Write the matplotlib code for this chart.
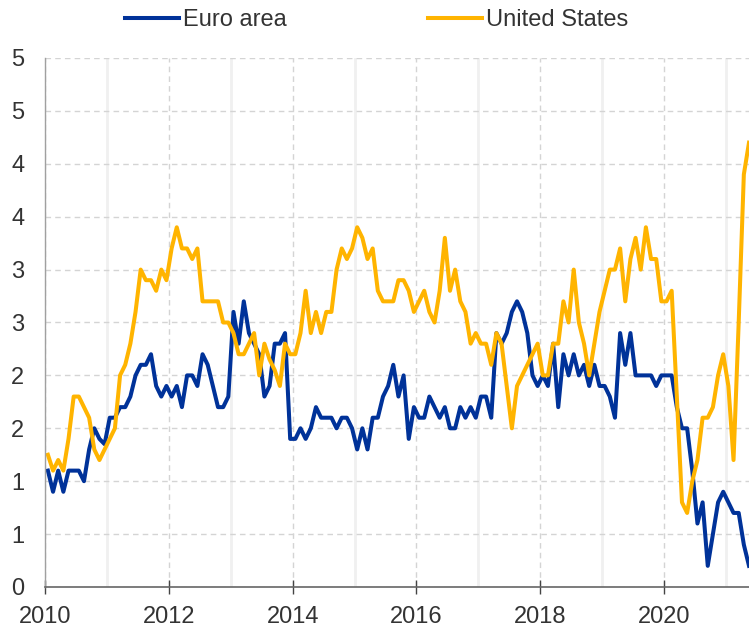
import numpy as np
import matplotlib
matplotlib.use("Agg")
import matplotlib.pyplot as plt
from matplotlib.ticker import MultipleLocator, FixedLocator

plt.rcParams['font.family'] = ['Liberation Sans', 'DejaVu Sans']

# monthly data, Jan 2010 - May 2021 (percentages)
START_YEAR = 2010
euro_area = [
    1.1, 0.9, 1.1, 0.9, 1.1, 1.1, 1.1, 1.0, 1.3, 1.5, 1.4, 1.35,   # 2010
    1.6, 1.6, 1.7, 1.7, 1.8, 2.0, 2.1, 2.1, 2.2, 1.9, 1.8, 1.9,    # 2011
    1.8, 1.9, 1.7, 2.0, 2.0, 1.9, 2.2, 2.1, 1.9, 1.7, 1.7, 1.8,    # 2012
    2.6, 2.3, 2.7, 2.4, 2.3, 2.2, 1.8, 1.9, 2.3, 2.3, 2.4, 1.4,    # 2013
    1.4, 1.5, 1.4, 1.5, 1.7, 1.6, 1.6, 1.6, 1.5, 1.6, 1.6, 1.5,    # 2014
    1.3, 1.5, 1.3, 1.6, 1.6, 1.8, 1.9, 2.1, 1.8, 2.0, 1.4, 1.7,    # 2015
    1.6, 1.6, 1.8, 1.7, 1.6, 1.7, 1.5, 1.5, 1.7, 1.6, 1.7, 1.6,    # 2016
    1.8, 1.8, 1.6, 2.4, 2.3, 2.4, 2.6, 2.7, 2.6, 2.4, 2.0, 1.9,    # 2017
    2.0, 1.9, 2.3, 1.7, 2.2, 2.0, 2.2, 2.0, 2.1, 1.9, 2.1, 1.9,    # 2018
    1.9, 1.8, 1.6, 2.4, 2.1, 2.4, 2.0, 2.0, 2.0, 2.0, 1.9, 2.0,    # 2019
    2.0, 2.0, 1.7, 1.5, 1.5, 1.1, 0.6, 0.8, 0.2, 0.5, 0.8, 0.9,    # 2020
    0.8, 0.7, 0.7, 0.4, 0.2,                                       # 2021
]
united_states = [
    1.25, 1.1, 1.2, 1.1, 1.4, 1.8, 1.8, 1.7, 1.6, 1.3, 1.2, 1.3,   # 2010
    1.4, 1.5, 2.0, 2.1, 2.3, 2.6, 3.0, 2.9, 2.9, 2.8, 3.0, 2.9,    # 2011
    3.2, 3.4, 3.2, 3.2, 3.1, 3.2, 2.7, 2.7, 2.7, 2.7, 2.5, 2.5,    # 2012
    2.4, 2.2, 2.2, 2.3, 2.4, 2.0, 2.3, 2.15, 2.05, 1.9, 2.3, 2.2,  # 2013
    2.2, 2.4, 2.8, 2.4, 2.6, 2.4, 2.6, 2.6, 3.0, 3.2, 3.1, 3.2,    # 2014
    3.4, 3.3, 3.1, 3.2, 2.8, 2.7, 2.7, 2.7, 2.9, 2.9, 2.8, 2.6,    # 2015
    2.7, 2.8, 2.6, 2.5, 2.8, 3.3, 2.8, 3.0, 2.7, 2.6, 2.3, 2.4,    # 2016
    2.3, 2.3, 2.1, 2.4, 2.3, 1.9, 1.5, 1.9, 2.0, 2.1, 2.2, 2.3,    # 2017
    2.0, 2.0, 2.3, 2.3, 2.7, 2.5, 3.0, 2.5, 2.3, 2.0, 2.3, 2.6,    # 2018
    2.8, 3.0, 3.0, 3.2, 2.7, 3.1, 3.3, 3.0, 3.4, 3.1, 3.1, 2.7,    # 2019
    2.7, 2.8, 1.8, 0.8, 0.7, 1.0, 1.2, 1.6, 1.6, 1.7, 2.0, 2.2,    # 2020
    1.9, 1.2, 2.5, 3.9, 4.2,                                       # 2021
]
y_ticks = [0, 0.5, 1, 1.5, 2, 2.5, 3, 3.5, 4, 4.5, 5]
y_tick_labels = ['0', '1', '1', '2', '2', '3', '3', '4', '4', '5', '5']
x_ticks = [2010, 2012, 2014, 2016, 2018, 2020]

BLUE = '#003299'
YELLOW = '#ffb400'
TXT = '#333333'

# mid-month positions
dates = START_YEAR + (np.arange(len(euro_area)) + 0.5) / 12.0

fig = plt.figure(figsize=(7.49, 6.27), dpi=100)
ax = fig.add_axes([0.0605, 0.0638, 0.9395, 0.8437])

l1, = ax.plot(dates, euro_area, color=BLUE, lw=2.9, solid_joinstyle='round', label='Euro area')
l2, = ax.plot(dates, united_states, color=YELLOW, lw=2.9, solid_joinstyle='round', label='United States')

ax.set_xlim(2010, dates[-1])
ax.set_ylim(0, 5)

ax.xaxis.set_major_locator(FixedLocator(x_ticks))
ax.xaxis.set_minor_locator(MultipleLocator(2, offset=1))
ax.set_xticklabels([str(t) for t in x_ticks])
ax.set_yticks(y_ticks)
ax.set_yticklabels(y_tick_labels)

ax.grid(True, which='major', axis='x', color='#d4d4d4', ls=(0, (4, 3)), lw=1.0)
ax.grid(True, which='minor', axis='x', color='#f0f0f0', ls='-', lw=2.0)
ax.grid(True, which='major', axis='y', color='#d4d4d4', ls=(0, (4, 3)), lw=1.0)
ax.set_axisbelow(True)

for s in ['top', 'right']:
    ax.spines[s].set_visible(False)
ax.spines['left'].set_color('#a0a0a0')
ax.spines['left'].set_linewidth(1.0)
ax.spines['bottom'].set_color('#666666')
ax.spines['bottom'].set_linewidth(1.2)

ax.tick_params(axis='x', which='major', direction='inout', length=10, width=1.0,
               color='#444444', labelsize=17, labelcolor=TXT, pad=9)
ax.tick_params(axis='x', which='minor', length=0)
ax.tick_params(axis='y', length=0, labelsize=17, labelcolor=TXT, pad=15)

fig.legend(handles=[l1, l2], loc='upper center', bbox_to_anchor=(0.5025, 1.019), ncol=2,
           frameon=False, fontsize=17, handlelength=2.3, handletextpad=0.15,
           columnspacing=6.0, labelcolor=TXT)

fig.savefig('out.png', dpi=100)
